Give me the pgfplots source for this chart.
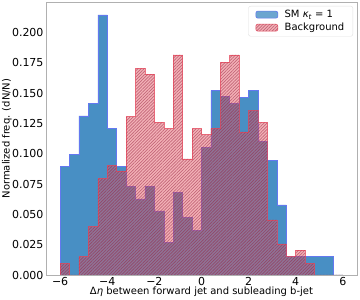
\documentclass[border=0pt]{standalone}
\usepackage{pgfplots}
\pgfplotsset{compat=1.18}
\usepackage{fontspec}
\setmainfont{DejaVu Sans}
\usetikzlibrary{patterns.meta}
\definecolor{smblue}{RGB}{72,143,196}
\definecolor{smedge}{RGB}{100,120,240}
\definecolor{bkgfill}{RGB}{228,85,98}
\definecolor{bkghatch}{RGB}{150,30,60}
\definecolor{bkgedge}{RGB}{230,70,90}
\definecolor{spine}{RGB}{176,176,176}
\begin{document}
\begin{tikzpicture}
\begin{axis}[
  scale only axis, width=311pt, height=273pt,
  xmin=-6.6, xmax=6.6, ymin=0, ymax=0.2252,
  axis line style={draw=spine, line width=0.8pt},
  major tick length=0pt,
  xtick={-6,-4,-2,0,2,4,6},
  xticklabels={−6,−4,−2,0,2,4,6},
  ytick={0,0.025,0.05,0.075,0.1,0.125,0.15,0.175,0.2},
  yticklabels={0.000,0.025,0.050,0.075,0.100,0.125,0.150,0.175,0.200},
  xticklabel style={font=\fontsize{11}{13}\selectfont, anchor=north, inner sep=0pt, yshift=-2.3pt},
  yticklabel style={font=\fontsize{11}{13}\selectfont, anchor=east, inner sep=0pt, xshift=-2.3pt},
  xlabel={Δ\textit{η} between forward jet and subleading b-jet},
  ylabel={Normalized freq. (dN/N)},
  label style={font=\fontsize{10}{12}\selectfont, inner sep=0pt},
  xlabel style={at={(axis description cs:0.5,-0.0725)}, anchor=base},
  ylabel style={at={(axis description cs:-0.117,0.5)}, anchor=base},
  legend image code/.code={\draw[#1] (0pt,-3.5pt) rectangle (22pt,3.5pt);},
  legend cell align=left,
  legend style={at={(1,1)}, anchor=north east, xshift=-4pt, yshift=-4pt,
    draw=gray!25, rounded corners=2pt, fill=white, fill opacity=0.8, text opacity=1,
    font=\fontsize{10}{12}\selectfont, inner xsep=7pt, inner ysep=2.5pt, row sep=1pt,
    column sep=5pt, nodes={inner sep=1.5pt}},
]
\addplot[const plot, fill=smblue, draw=smedge, line width=0.6pt] table {
x y
-6.0 0.0894
-5.6 0.0996
-5.2 0.1312
-4.8 0.1416
-4.4 0.2145
-4.0 0.1210
-3.6 0.0894
-3.2 0.0734
-2.8 0.0627
-2.4 0.0734
-2.0 0.0528
-1.6 0.0267
-1.2 0.0682
-0.8 0.0473
-0.4 0.0371
0.0 0.1050
0.4 0.1520
0.8 0.1470
1.2 0.1416
1.6 0.1466
2.0 0.1520
2.4 0.1100
2.8 0.0943
3.2 0.0578
3.6 0.0151
4.0 0.0151
4.4 0.0151
4.8 0.0151
5.2 0.0151
5.6 0
6.0 0
} \closedcycle;
\addlegendentry{SM {\itshape κ\textsubscript{t}} = 1}
\addplot[const plot, fill=bkgfill, fill opacity=0.46, draw=bkgedge, draw opacity=0.5, line width=0.6pt,
  postaction={pattern={Lines[angle=45,distance=2.2pt,line width=0.7pt]}, pattern color=bkghatch, fill opacity=0.2}] table {
x y
-6.0 0.0096
-5.6 0
-5.2 0.0151
-4.8 0.0400
-4.4 0.0798
-4.0 0.0902
-3.6 0.0858
-3.2 0.1306
-2.8 0.1705
-2.4 0.1656
-2.0 0.1260
-1.6 0.1207
-1.2 0.1815
-0.8 0.0957
-0.4 0.1207
0.0 0.1158
0.4 0.1210
0.8 0.1755
1.2 0.1815
1.6 0.1180
2.0 0.1356
2.4 0.1260
2.8 0.0454
3.2 0.0256
3.6 0.0151
4.0 0.0206
4.4 0.0096
4.8 0
5.2 0
5.6 0
6.0 0
} \closedcycle;
\addlegendentry{Background}
\end{axis}
\pgfresetboundingbox
\path[use as bounding box] (-46pt,-25pt) rectangle (314pt,275pt);
\end{tikzpicture}
\end{document}
